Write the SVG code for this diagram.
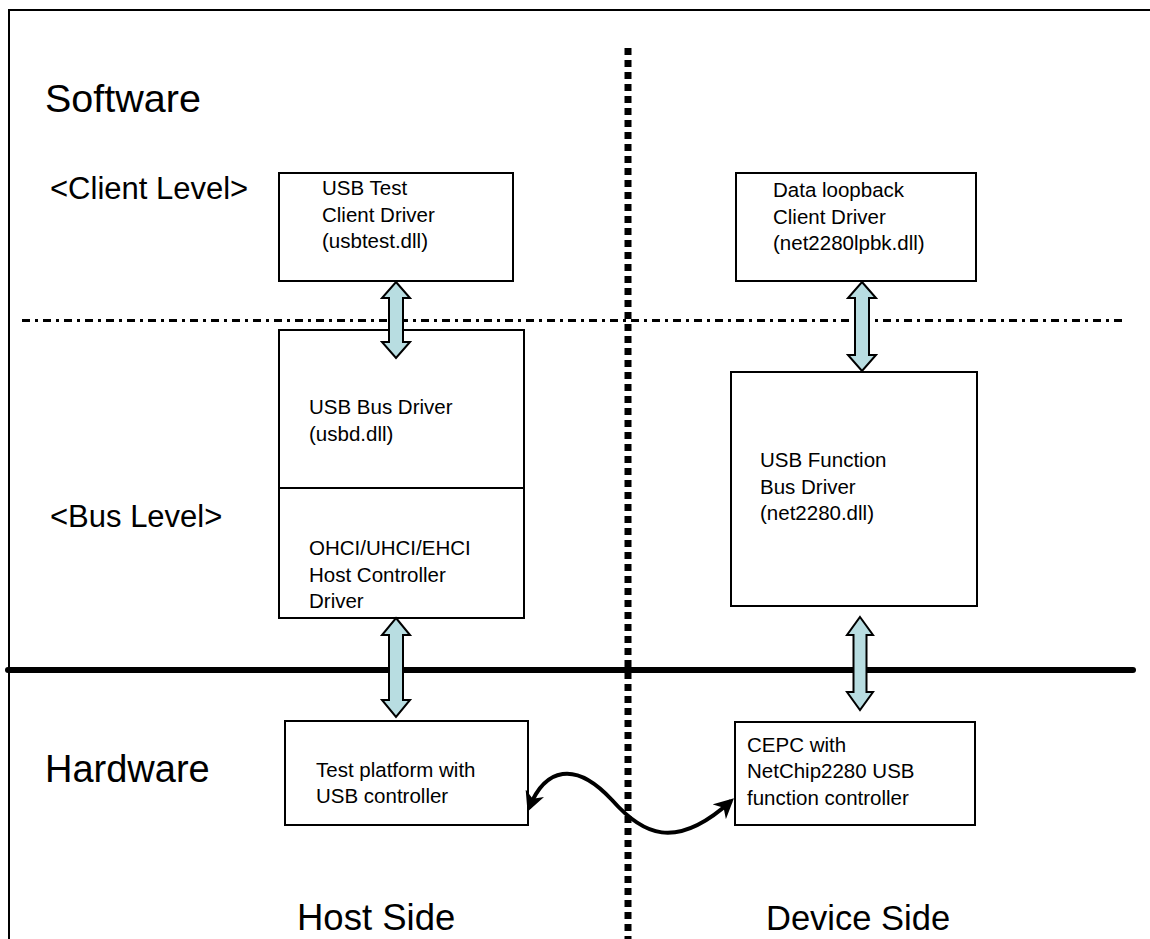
<svg xmlns="http://www.w3.org/2000/svg" width="1150" height="939" viewBox="0 0 1150 939">
<style>
.box{fill:#fff;stroke:#000;stroke-width:2}
.t{font-family:"Liberation Sans",Arial,sans-serif;font-size:20.5px;fill:#000}
.lbl{font-family:"Liberation Sans",Arial,sans-serif;fill:#000}
.barr{fill:#b8dde1;stroke:#000;stroke-width:2;stroke-linejoin:miter}
</style>
<defs>
<marker id="ah" viewBox="0 0 10 10" refX="8" refY="5" markerWidth="5" markerHeight="5" orient="auto-start-reverse" markerUnits="strokeWidth">
<path d="M0,0 L10,5 L0,10 L3,5 Z" fill="#000"/>
</marker>
</defs>
<rect width="1150" height="939" fill="#fff"/>
<g id="frame">
<line x1="9" y1="10" x2="1150" y2="10" stroke="#000" stroke-width="2"/>
<line x1="9" y1="9" x2="9" y2="939" stroke="#000" stroke-width="2"/>
</g>
<g id="dividers">
<line x1="22" y1="320.5" x2="1125" y2="320.5" stroke="#000" stroke-width="3" stroke-dasharray="8 5 3 5"/>
<line x1="628" y1="48" x2="628" y2="939" stroke="#000" stroke-width="7" stroke-dasharray="7 5"/>
<line x1="8" y1="670" x2="1133" y2="670" stroke="#000" stroke-width="6" stroke-linecap="round"/>
</g>
<g id="labels">
<text class="lbl" x="45" y="112" font-size="39.5">Software</text>
<text class="lbl" x="50" y="199" font-size="31">&lt;Client Level&gt;</text>
<text class="lbl" x="50" y="527" font-size="31">&lt;Bus Level&gt;</text>
<text class="lbl" x="45" y="782" font-size="38">Hardware</text>
<text class="lbl" x="297" y="930" font-size="36.5">Host Side</text>
<text class="lbl" x="766" y="930" font-size="34.5">Device Side</text>
</g>
<g id="usbtest">
<rect class="box" x="279" y="173" width="234" height="108"/>
<text class="t" x="322" y="195">USB Test</text>
<text class="t" x="322" y="221.5">Client Driver</text>
<text class="t" x="322" y="248">(usbtest.dll)</text>
</g>
<g id="loopback">
<rect class="box" x="736" y="173" width="240" height="108"/>
<text class="t" x="773" y="197">Data loopback</text>
<text class="t" x="773" y="223.5">Client Driver</text>
<text class="t" x="773" y="250">(net2280lpbk.dll)</text>
</g>
<g id="usbd">
<rect class="box" x="279" y="330" width="245" height="288"/>
<line x1="279" y1="488" x2="524" y2="488" stroke="#000" stroke-width="2"/>
<text class="t" x="309" y="414">USB Bus Driver</text>
<text class="t" x="309" y="441">(usbd.dll)</text>
<text class="t" x="309" y="555">OHCI/UHCI/EHCI</text>
<text class="t" x="309" y="581.5">Host Controller</text>
<text class="t" x="309" y="608">Driver</text>
</g>
<g id="net2280">
<rect class="box" x="731" y="372" width="246" height="234"/>
<text class="t" x="760" y="467">USB Function</text>
<text class="t" x="760" y="493.5">Bus Driver</text>
<text class="t" x="760" y="520">(net2280.dll)</text>
</g>
<g id="testplatform">
<rect class="box" x="285" y="721" width="243" height="104"/>
<text class="t" x="316" y="777">Test platform with</text>
<text class="t" x="316" y="803">USB controller</text>
</g>
<g id="cepc">
<rect class="box" x="735" y="722" width="240" height="103"/>
<text class="t" x="747" y="752">CEPC with</text>
<text class="t" x="747" y="778">NetChip2280 USB</text>
<text class="t" x="747" y="805">function controller</text>
</g>
<g id="connectors">
<polygon class="barr" points="396,282 410,298 403,298 403,342 410,342 396,358 382,342 389,342 389,298 382,298"/>
<polygon class="barr" points="862,282 876,298 869,298 869,355 876,355 862,371 848,355 855,355 855,298 848,298"/>
<polygon class="barr" points="396,618 410,635 403,635 403,700 410,700 396,717 382,700 389,700 389,635 382,635"/>
<polygon class="barr" points="860,617 873,635 866.5,635 866.5,692 873,692 860,710 847,692 853.5,692 853.5,635 847,635"/>
<path d="M529,808 C545,768 575,760 612,800 C642,834 675,852 731,801" fill="none" stroke="#000" stroke-width="4" marker-start="url(#ah)" marker-end="url(#ah)"/>
</g>
</svg>
